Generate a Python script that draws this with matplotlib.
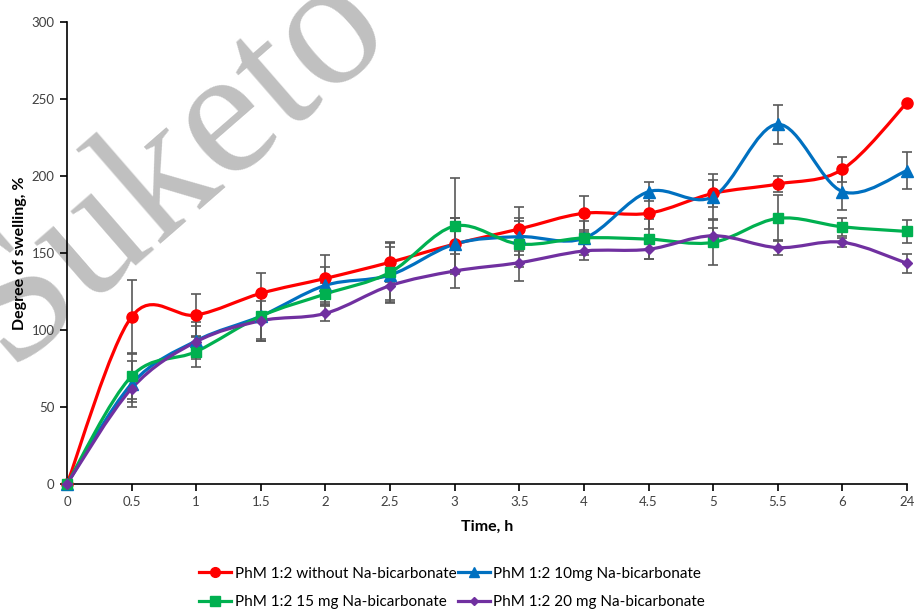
#!/usr/bin/env python
import numpy as np
import matplotlib as mpl; mpl.use("Agg")
import matplotlib.pyplot as plt
from matplotlib.path import Path
from matplotlib.patches import PathPatch
from matplotlib.lines import Line2D

# Data
# ------------------------------------------------------------------------------
hours = ["0", "0.5", "1", "1.5", "2", "2.5", "3", "3.5", "4", "4.5", "5", "5.5", "6", "24"]

red = [0, 108.6, 109.7, 123.8, 133.5, 144, 155.8, 165.6, 175.8, 175.8, 188.7, 194.8, 204.3, 247.6]
red_err = [0, 24, 14, 13.5, 15, 13, 17, 14, 11, 10, 9, 5.5, 8, 0]

blue = [0, 65, 93, 109, 129, 135.7, 155.8, 160.6, 159.5, 189.8, 186.6, 233.6, 189.9, 203.5]
blue_err = [0, 15, 12, 16, 12, 18, 17, 12, 11, 6, 15, 12.5, 12, 12]

green = [0, 70, 86, 109, 123.4, 137.4, 167.5, 155.8, 159.8, 159, 156.9, 172.5, 167, 164]
green_err = [0, 15, 10, 15, 7, 19, 31, 15, 4, 13, 15, 15, 6, 7.5]

purple = [0, 62, 92.4, 106, 110.8, 128.8, 138.3, 143.7, 151.3, 152.4, 161.2, 153.5, 157, 143.3]
purple_err = [0, 9, 10, 13, 5, 9, 11, 12, 6, 6.5, 5, 5, 3, 6]

labels = [
    "PhM 1:2 without Na-bicarbonate",
    "PhM 1:2 10mg Na-bicarbonate",
    "PhM 1:2 15 mg Na-bicarbonate",
    "PhM 1:2 20 mg Na-bicarbonate",
]

# Smoothed line (Excel-like Catmull-Rom Bezier)
# ------------------------------------------------------------------------------
def smooth_path(xs, ys):
    pts = np.column_stack([xs, ys]).astype(float)
    n = len(pts)
    verts = [pts[0]]
    codes = [Path.MOVETO]
    for i in range(n - 1):
        p0 = pts[i - 1] if i > 0 else pts[i]
        p1 = pts[i]
        p2 = pts[i + 1]
        p3 = pts[i + 2] if i + 2 < n else pts[i + 1]
        c1 = p1 + (p2 - p0) / 6.0
        c2 = p2 - (p3 - p1) / 6.0
        verts += [c1, c2, p2]
        codes += [Path.CURVE4] * 3
    return Path(verts, codes)

# Figure
# ------------------------------------------------------------------------------
fig = plt.figure(figsize=(9.17, 6.12), dpi=100)
ax = fig.add_axes([67/917, 1 - 484/612, 840/917, 462/612])
ax.patch.set_alpha(0)

# watermark, behind the axes
fig.text(172/917, 1 - 165/612, "Suketo", fontsize=132, family="Liberation Serif",
         color="#c0c0c0", rotation=41, rotation_mode="anchor",
         ha="center", va="center", zorder=-1)

x = np.arange(len(hours))
series = [
    (red, red_err, "#FF0000", "o", 8),
    (blue, blue_err, "#0070C0", "^", 8),
    (green, green_err, "#00B050", "s", 7.5),
    (purple, purple_err, "#7030A0", "D", 5.5),
]

for ys, err, color, marker, ms in series:
    ax.errorbar(x, ys, yerr=err, fmt="none", ecolor="#595959", elinewidth=1.2,
                capsize=3.5, capthick=1.2, zorder=1.5, clip_on=False)

handles = []
for (ys, err, color, marker, ms), lab in zip(series, labels):
    patch = PathPatch(smooth_path(x, ys), facecolor="none", edgecolor=color,
                      lw=2.3, zorder=2, capstyle="round", joinstyle="round")
    ax.add_patch(patch)
    ax.plot(x, ys, linestyle="none", marker=marker, ms=ms, color=color,
            zorder=3, clip_on=False)
    handles.append(Line2D([], [], color=color, lw=2.3, marker=marker, ms=ms - 1))

ax.set_xlim(0, len(hours) - 1)
ax.set_ylim(0, 300)
ax.set_xticks(x)
ax.set_xticklabels(hours)
ax.set_yticks(np.arange(0, 301, 50))

for s in ["top", "right"]:
    ax.spines[s].set_visible(False)
for s in ["left", "bottom"]:
    ax.spines[s].set_linewidth(1.2)
    ax.spines[s].set_zorder(2.5)
ax.tick_params(direction="out", length=5, width=1.2, labelsize=9.5,
               labelcolor="#404040", pad=4)
for t in ax.get_xticklabels() + ax.get_yticklabels():
    t.set_family("Lato")

ax.set_xlabel("Time, h", fontsize=11.5, fontweight="bold", family="Lato", labelpad=8)
ax.set_ylabel("Degree of swelling, %", fontsize=11.5, fontweight="bold", family="Lato",
              labelpad=3)

# legend rows: red | blue, green | purple
order = [0, 2, 1, 3]
fig.legend([handles[i] for i in order], [labels[i] for i in order],
           loc="center", bbox_to_anchor=(452/917, 1 - 588/612),
           ncol=2, frameon=False, handlelength=2.1, handletextpad=0.2,
           columnspacing=0.1, labelspacing=0.95,
           prop={"family": "Lato", "size": 11})

fig.savefig("out.png", dpi=100)
